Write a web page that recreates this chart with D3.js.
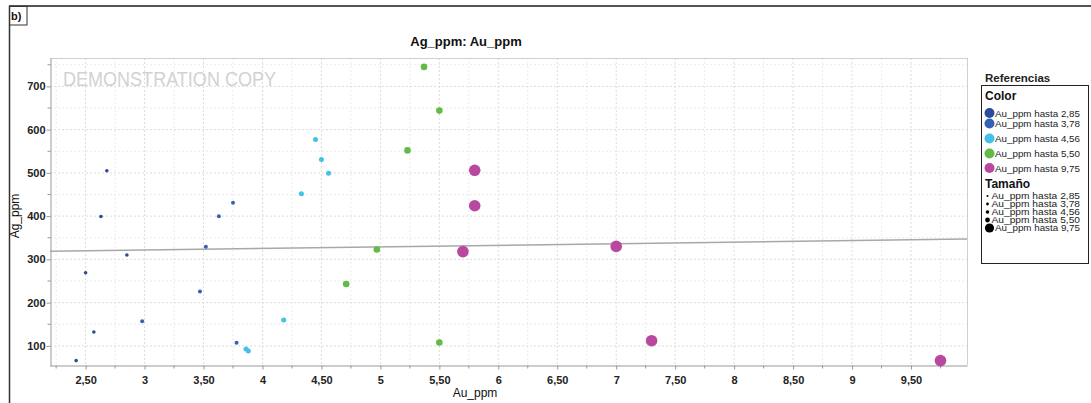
<!DOCTYPE html>
<html>
<head>
<meta charset="utf-8">
<script src="https://cdn.jsdelivr.net/npm/d3@7"></script>
<style>
  html, body { margin: 0; padding: 0; background: #ffffff; }
  svg { display: block; font-family: "Liberation Sans", Arial, sans-serif; }
</style>
</head>
<body>
<svg id="chart" width="1091" height="403"></svg>
<script>
// ---------- data ----------
const auValues = [2.42, 2.50, 2.57, 2.63, 2.68, 2.85,
                  2.98, 3.47, 3.52, 3.63, 3.75, 3.78,
                  3.86, 3.88, 4.18, 4.33, 4.45, 4.50, 4.56,
                  4.71, 4.97, 5.23, 5.37, 5.50, 5.50,
                  5.70, 5.80, 5.80, 7.00, 7.30, 9.75];
const agValues = [66, 269, 132, 399, 505, 310,
                  157, 226, 329, 400, 431, 107,
                  93, 88, 160, 452, 577, 531, 499,
                  243, 323, 552, 745, 644, 108,
                  318, 506, 424, 330, 112, 66];
const classBreaks = [2.85, 3.78, 4.56, 5.50, 9.75];
const classLabels = ["Au_ppm hasta 2,85", "Au_ppm hasta 3,78", "Au_ppm hasta 4,56", "Au_ppm hasta 5,50", "Au_ppm hasta 9,75"];
const xTickValues = [2.5, 3, 3.5, 4, 4.5, 5, 5.5, 6, 6.5, 7, 7.5, 8, 8.5, 9, 9.5];
const xTickLabels = ["2,50", "3", "3,50", "4", "4,50", "5", "5,50", "6", "6,50", "7", "7,50", "8", "8,50", "9", "9,50"];
const yTickValues = [100, 200, 300, 400, 500, 600, 700];
const trendAu = [2.198, 9.975];
const trendAg = [318.8, 347];

// ---------- styles ----------
const classColors = ["#2c4b9c", "#3463b5", "#45c0e6", "#62bb46", "#b9489f"];
const classRadius = [1.8, 2.0, 2.5, 3.3, 5.8];
const legendSizeRadius = [1.0, 1.4, 1.8, 2.4, 4.6];

const svg = d3.select("#chart");
const W = 1091, H = 403;
const plot = { left: 50, right: 967, top: 58, bottom: 365 };

const x = d3.scaleLinear().domain([2.198, 9.975]).range([plot.left, plot.right]);
const y = d3.scaleLinear().domain([53.5, 765.6]).range([plot.bottom + 1, plot.top]);

// outer frame
svg.append("line").attr("x1", 9).attr("x2", W).attr("y1", 6).attr("y2", 6)
  .attr("stroke", "#555").attr("stroke-width", 2);
svg.append("line").attr("x1", 9.5).attr("x2", 9.5).attr("y1", 6).attr("y2", H)
  .attr("stroke", "#333").attr("stroke-width", 1.5);
svg.append("rect").attr("x", 9.5).attr("y", 6.5).attr("width", 17.5).attr("height", 18.5)
  .attr("fill", "none").attr("stroke", "#333").attr("stroke-width", 1);
svg.append("text").attr("x", 11).attr("y", 20).attr("font-size", 11).attr("font-weight", "bold")
  .attr("fill", "#111").text("b)");

// grid
const xMinor = d3.range(2.25, 9.9, 0.25);
const yMinor = d3.range(100, 751, 50);
const grid = svg.append("g");
grid.selectAll("line.gx").data(xMinor).join("line")
  .attr("x1", d => x(d)).attr("x2", d => x(d))
  .attr("y1", plot.top).attr("y2", plot.bottom)
  .attr("stroke", d => (Math.abs(d * 2 - Math.round(d * 2)) < 1e-6) ? "#dcdcdc" : "#ebebeb")
  .attr("stroke-dasharray", "2,2").attr("stroke-width", 1);
grid.selectAll("line.gy").data(yMinor).join("line")
  .attr("x1", plot.left).attr("x2", plot.right)
  .attr("y1", d => y(d)).attr("y2", d => y(d))
  .attr("stroke", d => d % 100 === 0 ? "#dcdcdc" : "#ebebeb")
  .attr("stroke-dasharray", "2,2").attr("stroke-width", 1);

// plot border (top & right light)
svg.append("line").attr("x1", plot.left).attr("x2", plot.right).attr("y1", plot.top + 0.5).attr("y2", plot.top + 0.5)
  .attr("stroke", "#cfcfcf");
svg.append("line").attr("x1", plot.right + 0.5).attr("x2", plot.right + 0.5).attr("y1", plot.top).attr("y2", plot.bottom)
  .attr("stroke", "#cfcfcf");

// watermark
svg.append("text").attr("x", 63).attr("y", 86).attr("font-size", 21)
  .attr("fill", "#d2d2d2").attr("textLength", 213).attr("lengthAdjust", "spacingAndGlyphs")
  .text("DEMONSTRATION COPY");

// axes
const xAxis = d3.axisBottom(x).tickValues(xTickValues)
  .tickFormat((d, i) => xTickLabels[i]).tickSize(4).tickSizeOuter(0);
const gx = svg.append("g").attr("transform", `translate(0,${plot.bottom + 0.5})`).call(xAxis);
gx.select(".domain").attr("stroke", "#999");
gx.selectAll(".tick line").attr("stroke", "#999");
gx.selectAll(".tick text").attr("font-size", 11).attr("font-weight", "bold")
  .attr("fill", "#222").attr("font-family", "Liberation Sans, Arial, sans-serif").attr("dy", "1.05em");
// minor x ticks
svg.append("g").selectAll("line").data(xMinor.filter(v => Math.abs(v * 2 - Math.round(v * 2)) > 1e-6)).join("line")
  .attr("x1", d => x(d)).attr("x2", d => x(d))
  .attr("y1", plot.bottom + 0.5).attr("y2", plot.bottom + 3.5).attr("stroke", "#999");

const yAxis = d3.axisLeft(y).tickValues(yTickValues).tickFormat(d3.format("d")).tickSize(4).tickSizeOuter(0);
const gy = svg.append("g").attr("transform", `translate(${plot.left + 0.5},0)`).call(yAxis);
gy.select(".domain").attr("stroke", "#999");
gy.selectAll(".tick line").attr("stroke", "#999");
gy.selectAll(".tick text").attr("font-size", 11).attr("font-weight", "bold")
  .attr("fill", "#222").attr("font-family", "Liberation Sans, Arial, sans-serif").attr("x", -5);
svg.append("g").selectAll("line").data(yMinor.filter(v => v % 100 !== 0)).join("line")
  .attr("x1", plot.left + 0.5).attr("x2", plot.left - 2.5)
  .attr("y1", d => y(d)).attr("y2", d => y(d)).attr("stroke", "#999");

// titles
svg.append("text").attr("x", 466).attr("y", 46).attr("text-anchor", "middle")
  .attr("font-size", 13).attr("font-weight", "bold").attr("fill", "#111").text("Ag_ppm: Au_ppm");
svg.append("text").attr("x", 475).attr("y", 397).attr("text-anchor", "middle")
  .attr("font-size", 12).attr("fill", "#111").text("Au_ppm");
svg.append("text").attr("transform", "translate(19,216) rotate(-90)").attr("text-anchor", "middle")
  .attr("font-size", 12).attr("fill", "#111").text("Ag_ppm");

// trend line
svg.append("line")
  .attr("x1", x(trendAu[0])).attr("y1", y(trendAg[0]))
  .attr("x2", x(trendAu[1])).attr("y2", y(trendAg[1]))
  .attr("stroke", "#a8a8a8").attr("stroke-width", 1.5);

// points
const classOf = v => classBreaks.findIndex(b => v <= b + 1e-9);
const pts = auValues.map((a, i) => ({ au: a, ag: agValues[i], c: classOf(a) }));
svg.append("g").selectAll("circle").data(pts).join("circle")
  .attr("cx", d => x(d.au)).attr("cy", d => y(d.ag))
  .attr("r", d => classRadius[d.c]).attr("fill", d => classColors[d.c]);

// legend
const lg = svg.append("g");
lg.append("text").attr("x", 985).attr("y", 82).attr("font-size", 11.5).attr("font-weight", "bold")
  .attr("fill", "#222").text("Referencias");
lg.append("rect").attr("x", 981.5).attr("y", 85.5).attr("width", 107).attr("height", 178)
  .attr("fill", "#fff").attr("stroke", "#222").attr("stroke-width", 1);
lg.append("text").attr("x", 985).attr("y", 100).attr("font-size", 12).attr("font-weight", "bold")
  .attr("fill", "#111").text("Color");
const colorY = [113, 123.5, 138.5, 153.5, 168];
classLabels.forEach((lab, i) => {
  lg.append("circle").attr("cx", 989.5).attr("cy", colorY[i]).attr("r", 5).attr("fill", classColors[i]);
  lg.append("text").attr("x", 995).attr("y", colorY[i] + 3.5).attr("font-size", 9.5)
    .attr("fill", "#222").attr("textLength", 85).attr("lengthAdjust", "spacingAndGlyphs").text(lab);
});
lg.append("text").attr("x", 985).attr("y", 188).attr("font-size", 12).attr("font-weight", "bold")
  .attr("fill", "#111").text("Tamaño");
const sizeY = [196, 204, 212, 220, 228];
classLabels.forEach((lab, i) => {
  const cx = i === 4 ? 989.5 : 987.5;
  lg.append("circle").attr("cx", cx).attr("cy", sizeY[i]).attr("r", legendSizeRadius[i]).attr("fill", "#000");
  const tx = i === 4 ? 995 : 991.5;
  lg.append("text").attr("x", tx).attr("y", sizeY[i] + 3).attr("font-size", 9)
    .attr("fill", "#222").attr("textLength", 1080 - tx).attr("lengthAdjust", "spacingAndGlyphs").text(lab);
});
</script>
</body>
</html>
